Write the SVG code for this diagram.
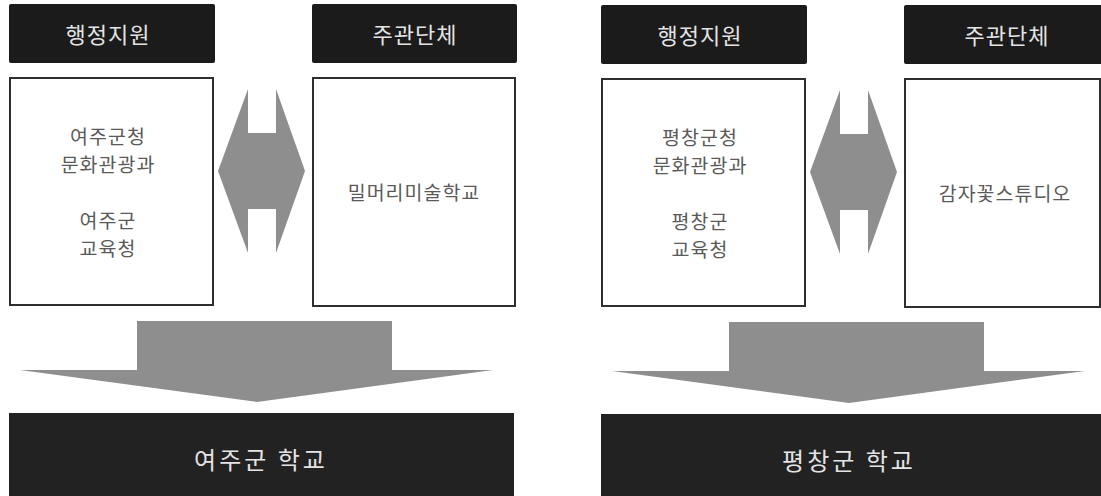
<svg xmlns="http://www.w3.org/2000/svg" width="1101" height="496" viewBox="0 0 1101 496">
<style>
.hdr{fill:#1b1b1b}
.hdrt{fill:#e4e4e4;font-family:"Noto Sans CJK KR","Noto Sans",sans-serif;font-size:22px;letter-spacing:1px;text-anchor:middle}
.box{fill:#ffffff;stroke:#2e2e2e;stroke-width:2}
.boxt{fill:#5a5a5a;font-family:"Noto Sans CJK KR","Noto Sans",sans-serif;font-size:19.5px;letter-spacing:1px;text-anchor:middle}
.arr{fill:#8e8e8e}
.bar{fill:#222222}
.bart{fill:#e4e4e4;font-family:"Noto Sans CJK KR","Noto Sans",sans-serif;font-size:24px;letter-spacing:3px;text-anchor:middle}
</style>
<rect width="1101" height="496" fill="#ffffff"/>
<g id="connectors">
<polygon class="arr" points="218,171 248,89 248,133 276,133 276,89 305,171 276,253 276,209 248,209 248,253"/>
<polygon class="arr" points="137,321 392,321 392,370 493,370 257,402 20,370 137,370"/>
<polygon class="arr" points="810,172 840,90 840,134 868,134 868,90 897,172 868,254 868,210 840,210 840,254"/>
<polygon class="arr" points="729,322 984,322 984,371 1085,371 849,403 612,371 729,371"/>
</g>
<g id="hdr-admin-yeoju">
<rect class="hdr" x="9" y="4" width="206" height="59" rx="2"/>
<text class="hdrt" x="108" y="43">행정지원</text>
</g>
<g id="hdr-org-yeoju">
<rect class="hdr" x="312" y="4" width="205" height="59" rx="2"/>
<text class="hdrt" x="415" y="43">주관단체</text>
</g>
<g id="box-admin-yeoju">
<rect class="box" x="10" y="78" width="203" height="227"/>
<text class="boxt" x="108" y="144">여주군청</text>
<text class="boxt" x="108" y="172">문화관광과</text>
<text class="boxt" x="108" y="228">여주군</text>
<text class="boxt" x="108" y="256">교육청</text>
</g>
<g id="box-org-yeoju">
<rect class="box" x="313" y="78" width="202" height="228"/>
<text class="boxt" x="414" y="200">밀머리미술학교</text>
</g>
<g id="bar-yeoju">
<rect class="bar" x="9" y="413" width="505" height="83"/>
<text class="bart" x="261" y="469">여주군 학교</text>
</g>
<g id="hdr-admin-pyeongchang">
<rect class="hdr" x="601" y="5" width="206" height="59" rx="2"/>
<text class="hdrt" x="700" y="44">행정지원</text>
</g>
<g id="hdr-org-pyeongchang">
<rect class="hdr" x="904" y="5" width="205" height="59" rx="2"/>
<text class="hdrt" x="1007" y="44">주관단체</text>
</g>
<g id="box-admin-pyeongchang">
<rect class="box" x="602" y="79" width="203" height="227"/>
<text class="boxt" x="700" y="145">평창군청</text>
<text class="boxt" x="700" y="173">문화관광과</text>
<text class="boxt" x="700" y="229">평창군</text>
<text class="boxt" x="700" y="257">교육청</text>
</g>
<g id="box-org-pyeongchang">
<rect class="box" x="905" y="79" width="195" height="228"/>
<text class="boxt" x="1005" y="201">감자꽃스튜디오</text>
</g>
<g id="bar-pyeongchang">
<rect class="bar" x="601" y="414" width="500" height="82"/>
<text class="bart" x="849" y="470">평창군 학교</text>
</g>
</svg>
